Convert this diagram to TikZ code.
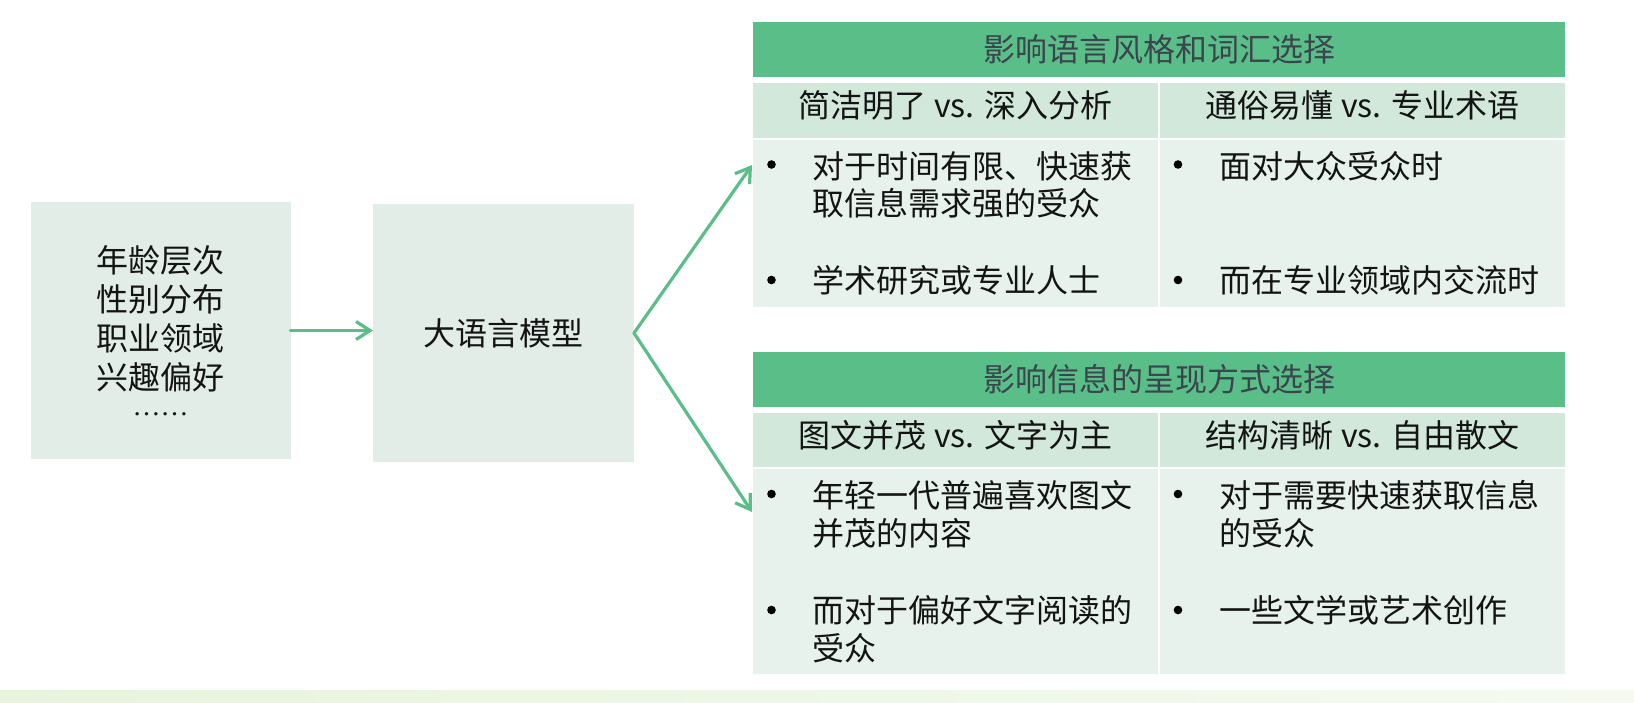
\documentclass[tikz,border=0pt]{standalone}
\usepackage{fontspec}
\setmainfont{Noto Sans CJK SC}
\newfontfamily\dotfont{Liberation Serif}
\usetikzlibrary{arrows.meta}
\definecolor{hdrgreen}{HTML}{5ABE88}
\definecolor{hdrtext}{HTML}{3A454D}
\definecolor{subgreen}{HTML}{D2E8DB}
\definecolor{bodygreen}{HTML}{E7F2EC}
\definecolor{boxgreen}{HTML}{E2EDE7}
\definecolor{arrgreen}{HTML}{5ABE88}
\definecolor{bandA}{HTML}{E8F4DC}
\definecolor{bandB}{HTML}{F5FAF0}
\newcommand{\myfs}{\fontsize{16}{19.5}\selectfont}
\begin{document}
\begin{tikzpicture}[x=0.5pt,y=-0.5pt,
  cellbase/.style={inner sep=0pt, outer sep=0pt, anchor=north west, font=\myfs},
  hdr/.style={cellbase, fill=hdrgreen, minimum width=406pt, minimum height=27.5pt, text=hdrtext, text height=14pt, text depth=2pt},
  subcell/.style={cellbase, fill=subgreen, minimum width=202.5pt, text=black!92, text height=14pt, text depth=7pt},
  bodycell/.style={cellbase, fill=bodygreen, minimum width=202.5pt},
  srcbox/.style={fill=boxgreen, inner sep=0pt, outer sep=0pt, font=\myfs, text=black!92},
  arr/.style={draw=arrgreen, line width=1.6pt, line cap=round, line join=round, -{Straight Barb[length=7pt,width=9pt]}},
  bul/.style={circle, fill=black, minimum size=4.3pt, inner sep=0pt},
  btxt/.style={anchor=base west, inner sep=0pt, font=\myfs, text=black!92}]
\useasboundingbox (0,0) rectangle (1634,702);
\fill[white] (0,0) rectangle (1634,702);
\shade[left color=bandA, right color=bandB] (0,690) rectangle (1634,702);

% left boxes
\node[srcbox, minimum width=130pt, minimum height=128.5pt, align=center] (src) at (160.5,330.5)
  {年龄层次\\性别分布\\职业领域\\兴趣偏好\\[-6.5pt]{\dotfont\fontsize{14}{14}\selectfont ……}};
\node[srcbox, minimum width=130.5pt, minimum height=129pt] (llm) at (503.5,333) {大语言模型};

% top table
\node[hdr] (hA) at (753,22) {影响语言风格和词汇选择};
\node[subcell, minimum height=27.5pt] (sA1) at (753,83) {简洁明了 vs. 深入分析};
\node[subcell, minimum height=27.5pt] (sA2) at (1160,83) {通俗易懂 vs. 专业术语};
\node[bodycell, minimum height=83.5pt] (bA1) at (753,140) {};
\node[bodycell, minimum height=83.5pt] (bA2) at (1160,140) {};

% bottom table
\node[hdr] (hB) at (753,352) {影响信息的呈现方式选择};
\node[subcell, minimum height=27pt] (sB1) at (753,413) {图文并茂 vs. 文字为主};
\node[subcell, minimum height=27pt] (sB2) at (1160,413) {结构清晰 vs. 自由散文};
\node[bodycell, minimum height=102.5pt] (bB1) at (753,469) {};
\node[bodycell, minimum height=102.5pt] (bB2) at (1160,469) {};

% bullets top
\node[bul] (dA1) at (771.5,164.5) {};
\node[bul] (dA2) at (771.5,280) {};
\node[bul] (dA3) at (1178,164.5) {};
\node[bul] (dA4) at (1178,280) {};
\node[btxt] (tA1a) at (812,178) {对于时间有限、快速获};
\node[btxt] (tA1b) at (812,215) {取信息需求强的受众};
\node[btxt] (tA2) at (812,292) {学术研究或专业人士};
\node[btxt] (tA3) at (1219,178) {面对大众受众时};
\node[btxt] (tA4) at (1219,292) {而在专业领域内交流时};

% bullets bottom
\node[bul] (dB1) at (771.5,494) {};
\node[bul] (dB2) at (771.5,610) {};
\node[bul] (dB3) at (1178,494) {};
\node[bul] (dB4) at (1178,610) {};
\node[btxt] (tB1a) at (812,507) {年轻一代普遍喜欢图文};
\node[btxt] (tB1b) at (812,545) {并茂的内容};
\node[btxt] (tB2a) at (812,622) {而对于偏好文字阅读的};
\node[btxt] (tB2b) at (812,660) {受众};
\node[btxt] (tB3a) at (1219,507) {对于需要快速获取信息};
\node[btxt] (tB3b) at (1219,545) {的受众};
\node[btxt] (tB4) at (1219,622) {一些文学或艺术创作};

% connectors
\coordinate (endA) at (752,165);
\coordinate (endB) at (752,512);
\draw[arr] (src.east) -- (src.east -| llm.west);
\draw[arr] (llm.east) -- (endA);
\draw[arr] (llm.east) -- (endB);
\end{tikzpicture}
\end{document}
